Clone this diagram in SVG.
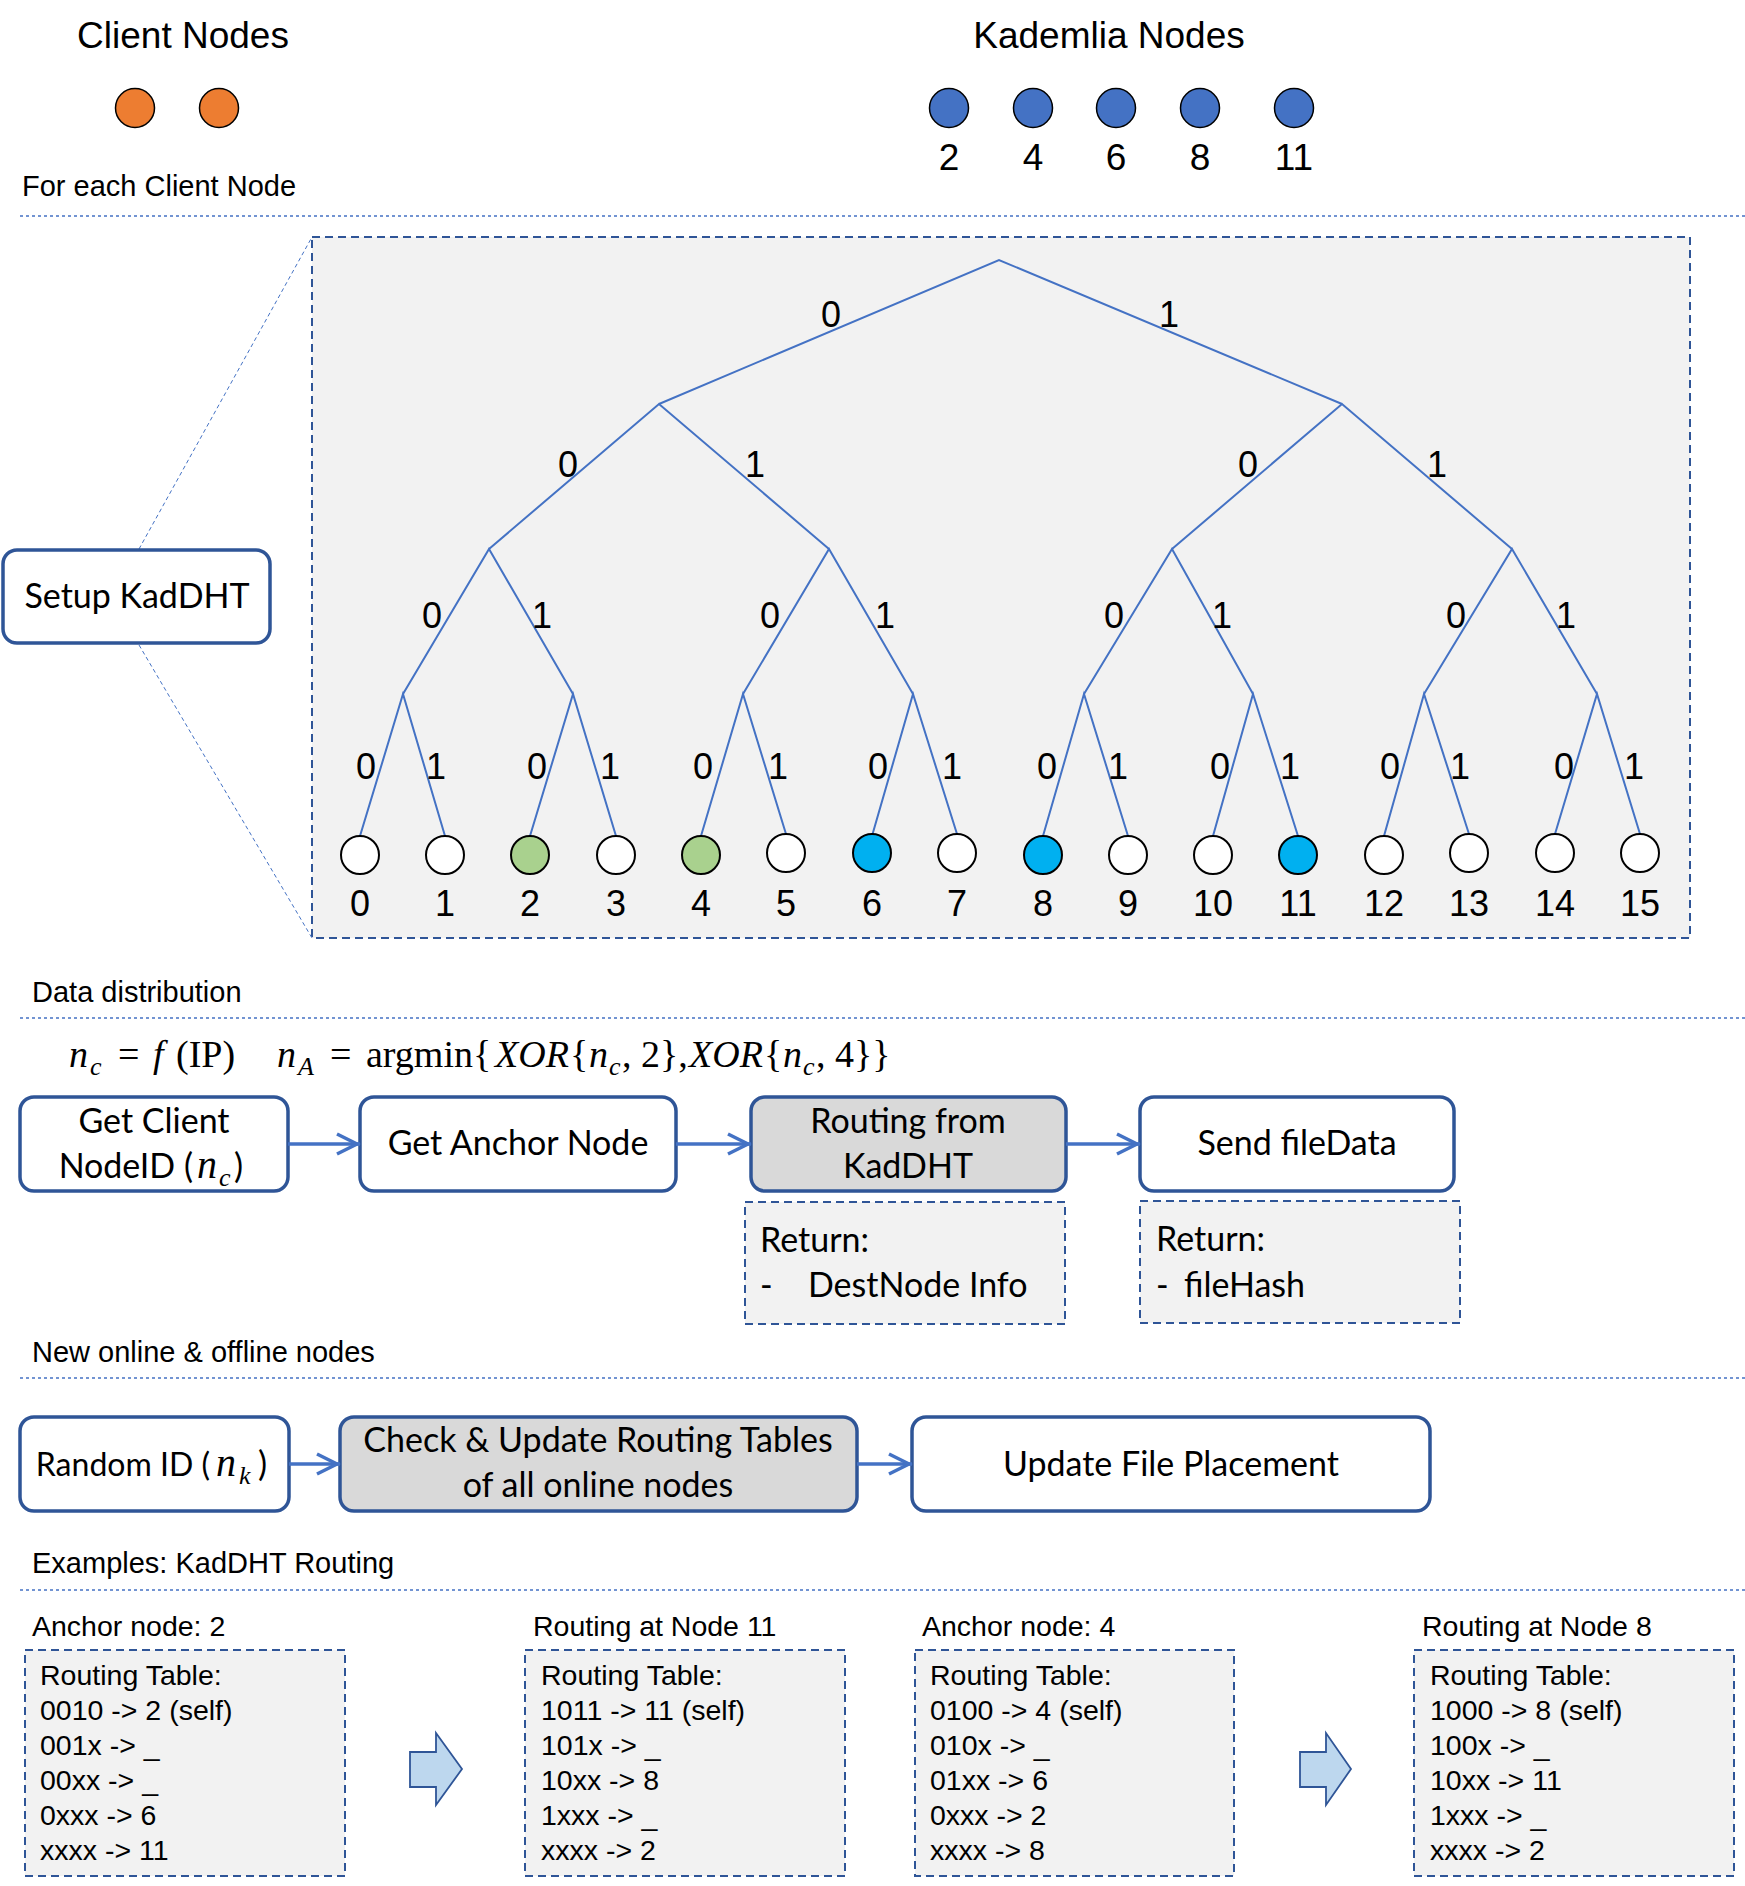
<svg xmlns="http://www.w3.org/2000/svg" width="1745" height="1886" viewBox="0 0 1745 1886">
<defs>
<style>
.hd{font-family:"Liberation Sans",Arial,sans-serif;font-size:37px;fill:#000}
.sec{font-family:"Liberation Sans",Arial,sans-serif;font-size:29px;fill:#000}
.tl{font-family:"Liberation Sans",Arial,sans-serif;font-size:36px;fill:#000;text-anchor:middle}
.tb{font-family:"Liberation Sans",Arial,sans-serif;font-size:28.5px;fill:#000}
.bx{font-family:Lato,"Liberation Sans",sans-serif;font-size:34px;fill:#000}
.mid{text-anchor:middle}
.m{font-family:"Liberation Serif","DejaVu Serif",serif;font-size:38px;fill:#000}
.mb{font-family:"Liberation Serif","DejaVu Serif",serif;font-size:40px;fill:#000}
.ms{font-family:"Liberation Serif","DejaVu Serif",serif;font-size:26px;font-style:italic;fill:#000}
.it{font-style:italic}
.sep{stroke:#4472C4;stroke-width:1.6;stroke-dasharray:3 3;fill:none}
.box{fill:#fff;stroke:#2F5597;stroke-width:3.5}
.gbox{fill:#D9D9D9;stroke:#2F5597;stroke-width:3.5}
.dbox{fill:#F2F2F2;stroke:#2F5597;stroke-width:2;stroke-dasharray:8 5}
.edge{stroke:#4472C4;stroke-width:2;fill:none}
.flow{stroke:#4472C4;stroke-width:3.5;fill:none}
.leaf{stroke:#000;stroke-width:2}
.blk{fill:#BDD7EE;stroke:#2F5597;stroke-width:1.8}
</style>
<marker id="arr" markerUnits="userSpaceOnUse" markerWidth="30" markerHeight="30" viewBox="-26 -14 30 28" refX="3" refY="0" orient="auto">
<path d="M-20,-10 L0,0 L-20,10" fill="none" stroke="#4472C4" stroke-width="3.5"/>
</marker>
</defs>
<rect width="1745" height="1886" fill="#fff"/>

<g id="legend">
<text class="hd mid" x="183" y="48">Client Nodes</text>
<circle cx="135" cy="108" r="19.5" fill="#ED7D31" stroke="#000" stroke-width="1.5"/>
<circle cx="219" cy="108" r="19.5" fill="#ED7D31" stroke="#000" stroke-width="1.5"/>
<text class="hd mid" x="1109" y="48">Kademlia Nodes</text>
<g fill="#4472C4" stroke="#000" stroke-width="1.5">
<circle cx="949" cy="108" r="19.5"/>
<circle cx="1033" cy="108" r="19.5"/>
<circle cx="1116" cy="108" r="19.5"/>
<circle cx="1200" cy="108" r="19.5"/>
<circle cx="1294" cy="108" r="19.5"/>
</g>
<text class="hd mid" x="949" y="170">2</text>
<text class="hd mid" x="1033" y="170">4</text>
<text class="hd mid" x="1116" y="170">6</text>
<text class="hd mid" x="1200" y="170">8</text>
<text class="hd mid" x="1294" y="170">11</text>
</g>

<g id="separators">
<text class="sec" x="22" y="196">For each Client Node</text>
<line class="sep" x1="20" y1="216" x2="1745" y2="216"/>
<text class="sec" x="32" y="1002">Data distribution</text>
<line class="sep" x1="20" y1="1018" x2="1745" y2="1018"/>
<text class="sec" x="32" y="1362">New online &amp; offline nodes</text>
<line class="sep" x1="20" y1="1378" x2="1745" y2="1378"/>
<text class="sec" x="32" y="1573">Examples: KadDHT Routing</text>
<line class="sep" x1="20" y1="1590" x2="1745" y2="1590"/>
</g>

<g id="tree-panel">
<rect class="dbox" x="312" y="237" width="1378" height="701"/>
<line x1="139" y1="549" x2="312" y2="237" stroke="#4472C4" stroke-width="1" stroke-dasharray="4 3"/>
<line x1="139" y1="645" x2="312" y2="938" stroke="#4472C4" stroke-width="1" stroke-dasharray="4 3"/>
</g>

<g id="setup-kaddht">
<rect class="box" x="3" y="550" width="267" height="93" rx="14"/>
<text class="bx mid" x="137" y="608">Setup KadDHT</text>
</g>

<g id="tree-edges" class="edge">
<polyline points="659,404 999,260 1342,404"/>
<polyline points="489,549 659,404 829,549"/>
<polyline points="1172,549 1342,404 1512,549"/>
<polyline points="403,694 489,549 573,694"/>
<polyline points="743,694 829,549 913,694"/>
<polyline points="1084,694 1172,549 1253,694"/>
<polyline points="1424,694 1512,549 1597,694"/>
<polyline points="360,836 403,694 445,836"/>
<polyline points="530,836 573,694 616,836"/>
<polyline points="701,836 743,694 786,834"/>
<polyline points="872,836 913,694 957,834"/>
<polyline points="1043,836 1084,694 1128,836"/>
<polyline points="1213,836 1253,694 1298,836"/>
<polyline points="1384,836 1424,694 1469,834"/>
<polyline points="1555,834 1597,694 1640,834"/>
</g>

<g id="tree-edge-labels">
<text class="tl" x="831" y="327">0</text>
<text class="tl" x="1169" y="327">1</text>
<text class="tl" x="568" y="477">0</text>
<text class="tl" x="755" y="477">1</text>
<text class="tl" x="1248" y="477">0</text>
<text class="tl" x="1437" y="477">1</text>
<text class="tl" x="432" y="628">0</text>
<text class="tl" x="542" y="628">1</text>
<text class="tl" x="770" y="628">0</text>
<text class="tl" x="885" y="628">1</text>
<text class="tl" x="1114" y="628">0</text>
<text class="tl" x="1222" y="628">1</text>
<text class="tl" x="1456" y="628">0</text>
<text class="tl" x="1566" y="628">1</text>
<text class="tl" x="366" y="779">0</text>
<text class="tl" x="436" y="779">1</text>
<text class="tl" x="537" y="779">0</text>
<text class="tl" x="610" y="779">1</text>
<text class="tl" x="703" y="779">0</text>
<text class="tl" x="778" y="779">1</text>
<text class="tl" x="878" y="779">0</text>
<text class="tl" x="952" y="779">1</text>
<text class="tl" x="1047" y="779">0</text>
<text class="tl" x="1118" y="779">1</text>
<text class="tl" x="1220" y="779">0</text>
<text class="tl" x="1290" y="779">1</text>
<text class="tl" x="1390" y="779">0</text>
<text class="tl" x="1460" y="779">1</text>
<text class="tl" x="1564" y="779">0</text>
<text class="tl" x="1634" y="779">1</text>
</g>

<g id="tree-leaves">
<circle class="leaf" cx="360" cy="855" r="19" fill="#fff"/>
<circle class="leaf" cx="445" cy="855" r="19" fill="#fff"/>
<circle class="leaf" cx="530" cy="855" r="19" fill="#A9D18E"/>
<circle class="leaf" cx="616" cy="855" r="19" fill="#fff"/>
<circle class="leaf" cx="701" cy="855" r="19" fill="#A9D18E"/>
<circle class="leaf" cx="786" cy="853" r="19" fill="#fff"/>
<circle class="leaf" cx="872" cy="853" r="19" fill="#00B0F0"/>
<circle class="leaf" cx="957" cy="853" r="19" fill="#fff"/>
<circle class="leaf" cx="1043" cy="855" r="19" fill="#00B0F0"/>
<circle class="leaf" cx="1128" cy="855" r="19" fill="#fff"/>
<circle class="leaf" cx="1213" cy="855" r="19" fill="#fff"/>
<circle class="leaf" cx="1298" cy="855" r="19" fill="#00B0F0"/>
<circle class="leaf" cx="1384" cy="855" r="19" fill="#fff"/>
<circle class="leaf" cx="1469" cy="853" r="19" fill="#fff"/>
<circle class="leaf" cx="1555" cy="853" r="19" fill="#fff"/>
<circle class="leaf" cx="1640" cy="853" r="19" fill="#fff"/>
<text class="tl" x="360" y="916">0</text>
<text class="tl" x="445" y="916">1</text>
<text class="tl" x="530" y="916">2</text>
<text class="tl" x="616" y="916">3</text>
<text class="tl" x="701" y="916">4</text>
<text class="tl" x="786" y="916">5</text>
<text class="tl" x="872" y="916">6</text>
<text class="tl" x="957" y="916">7</text>
<text class="tl" x="1043" y="916">8</text>
<text class="tl" x="1128" y="916">9</text>
<text class="tl" x="1213" y="916">10</text>
<text class="tl" x="1298" y="916">11</text>
<text class="tl" x="1384" y="916">12</text>
<text class="tl" x="1469" y="916">13</text>
<text class="tl" x="1555" y="916">14</text>
<text class="tl" x="1640" y="916">15</text>
</g>

<g id="formula">
<text class="m" y="1067"><tspan x="69" class="it">n</tspan><tspan x="90" y="1075" class="ms">c</tspan><tspan x="118" y="1067">=</tspan><tspan x="153" class="it">f</tspan><tspan x="176">(IP)</tspan><tspan x="277" class="it">n</tspan><tspan x="298" y="1075" class="ms">A</tspan><tspan x="330" y="1067">=</tspan><tspan x="366">argmin{</tspan><tspan x="495" class="it">XOR</tspan><tspan x="570">{</tspan><tspan x="589" class="it">n</tspan><tspan x="609" y="1075" class="ms">c</tspan><tspan x="622" y="1067">, 2},</tspan><tspan x="689" class="it">XOR</tspan><tspan x="764">{</tspan><tspan x="783" class="it">n</tspan><tspan x="803" y="1075" class="ms">c</tspan><tspan x="816" y="1067">, 4}}</tspan></text>
</g>

<g id="get-client-nodeid">
<rect class="box" x="20" y="1097" width="268" height="94" rx="14"/>
<text class="bx mid" x="154" y="1133">Get Client</text>
<text class="bx" x="193" y="1178" text-anchor="end">NodeID (</text>
<text class="mb" y="1178"><tspan x="197" class="it">n</tspan><tspan x="219" y="1186" class="ms">c</tspan></text>
<text class="bx" x="234" y="1178">)</text>
</g>

<g id="get-anchor-node">
<rect class="box" x="360" y="1097" width="316" height="94" rx="14"/>
<text class="bx mid" x="518" y="1155">Get Anchor Node</text>
</g>

<g id="routing-from-kaddht">
<rect class="gbox" x="751" y="1097" width="315" height="94" rx="14"/>
<text class="bx mid" x="908" y="1133">Routing from</text>
<text class="bx mid" x="908" y="1178">KadDHT</text>
</g>

<g id="send-filedata">
<rect class="box" x="1140" y="1097" width="314" height="94" rx="14"/>
<text class="bx mid" x="1297" y="1155">Send fileData</text>
</g>

<g id="return-destnode">
<rect class="dbox" x="745" y="1202" width="320" height="122"/>
<text class="bx" x="760" y="1252">Return:</text>
<text class="bx" x="760" y="1297">-</text>
<text class="bx" x="808" y="1297">DestNode Info</text>
</g>

<g id="return-filehash">
<rect class="dbox" x="1140" y="1201" width="320" height="122"/>
<text class="bx" x="1156" y="1251">Return:</text>
<text class="bx" x="1156" y="1297">-</text>
<text class="bx" x="1184" y="1297">fileHash</text>
</g>

<g id="random-id">
<rect class="box" x="20" y="1417" width="269" height="94" rx="14"/>
<text class="bx" x="210" y="1476" text-anchor="end" style="font-size:32px">Random ID (</text>
<text class="mb" y="1476"><tspan x="216" class="it">n</tspan><tspan x="239" y="1484" class="ms">k</tspan></text>
<text class="bx" x="258" y="1476">)</text>
</g>

<g id="check-update-routing">
<rect class="gbox" x="340" y="1417" width="517" height="94" rx="14"/>
<text class="bx mid" x="598" y="1452">Check &amp; Update Routing Tables</text>
<text class="bx mid" x="598" y="1497">of all online nodes</text>
</g>

<g id="update-file-placement">
<rect class="box" x="912" y="1417" width="518" height="94" rx="14"/>
<text class="bx mid" x="1171" y="1476">Update File Placement</text>
</g>

<g id="connectors">
<line class="flow" x1="288" y1="1144" x2="360" y2="1144" marker-end="url(#arr)"/>
<line class="flow" x1="676" y1="1144" x2="751" y2="1144" marker-end="url(#arr)"/>
<line class="flow" x1="1066" y1="1144" x2="1140" y2="1144" marker-end="url(#arr)"/>
<line class="flow" x1="289" y1="1464" x2="340" y2="1464" marker-end="url(#arr)"/>
<line class="flow" x1="857" y1="1464" x2="912" y2="1464" marker-end="url(#arr)"/>
<polygon class="blk" points="410,1752 436,1752 436,1733 462,1769 436,1805 436,1787 410,1787"/>
<polygon class="blk" points="1300,1752 1326,1752 1326,1733 1351,1769 1326,1805 1326,1787 1300,1787"/>
</g>

<g id="example-anchor-2">
<text class="tb" x="32" y="1636">Anchor node: 2</text>
<rect class="dbox" x="25" y="1650" width="320" height="226"/>
<text class="tb" x="40" y="1685">Routing Table:</text>
<text class="tb" x="40" y="1720">0010 -&gt; 2 (self)</text>
<text class="tb" x="40" y="1755">001x -&gt; _</text>
<text class="tb" x="40" y="1790">00xx -&gt; _</text>
<text class="tb" x="40" y="1825">0xxx -&gt; 6</text>
<text class="tb" x="40" y="1860">xxxx -&gt; 11</text>
</g>

<g id="example-node-11">
<text class="tb" x="533" y="1636">Routing at Node 11</text>
<rect class="dbox" x="525" y="1650" width="320" height="226"/>
<text class="tb" x="541" y="1685">Routing Table:</text>
<text class="tb" x="541" y="1720">1011 -&gt; 11 (self)</text>
<text class="tb" x="541" y="1755">101x -&gt; _</text>
<text class="tb" x="541" y="1790">10xx -&gt; 8</text>
<text class="tb" x="541" y="1825">1xxx -&gt; _</text>
<text class="tb" x="541" y="1860">xxxx -&gt; 2</text>
</g>

<g id="example-anchor-4">
<text class="tb" x="922" y="1636">Anchor node: 4</text>
<rect class="dbox" x="915" y="1650" width="319" height="226"/>
<text class="tb" x="930" y="1685">Routing Table:</text>
<text class="tb" x="930" y="1720">0100 -&gt; 4 (self)</text>
<text class="tb" x="930" y="1755">010x -&gt; _</text>
<text class="tb" x="930" y="1790">01xx -&gt; 6</text>
<text class="tb" x="930" y="1825">0xxx -&gt; 2</text>
<text class="tb" x="930" y="1860">xxxx -&gt; 8</text>
</g>

<g id="example-node-8">
<text class="tb" x="1422" y="1636">Routing at Node 8</text>
<rect class="dbox" x="1414" y="1650" width="320" height="226"/>
<text class="tb" x="1430" y="1685">Routing Table:</text>
<text class="tb" x="1430" y="1720">1000 -&gt; 8 (self)</text>
<text class="tb" x="1430" y="1755">100x -&gt; _</text>
<text class="tb" x="1430" y="1790">10xx -&gt; 11</text>
<text class="tb" x="1430" y="1825">1xxx -&gt; _</text>
<text class="tb" x="1430" y="1860">xxxx -&gt; 2</text>
</g>
</svg>
